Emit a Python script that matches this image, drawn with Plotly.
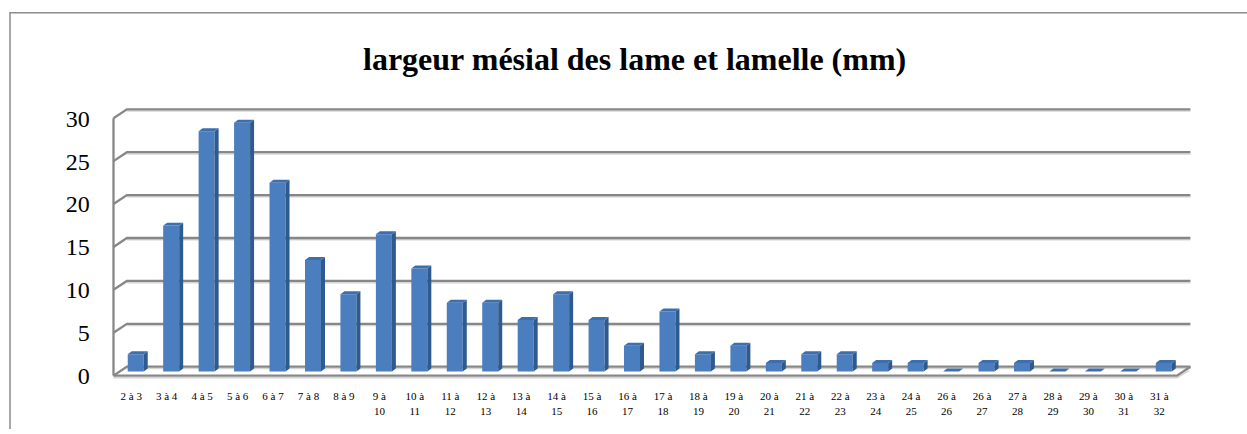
import plotly.graph_objects as go

# ---------------- data ----------------
categories = ["2 à 3", "3 à 4", "4 à 5", "5 à 6", "6 à 7", "7 à 8", "8 à 9",
              "9 à<br>10", "10 à<br>11", "11 à<br>12", "12 à<br>13", "13 à<br>14",
              "14 à<br>15", "15 à<br>16", "16 à<br>17", "17 à<br>18", "18 à<br>19",
              "19 à<br>20", "20 à<br>21", "21 à<br>22", "22 à<br>23", "23 à<br>24",
              "24 à<br>25", "26 à<br>26", "26 à<br>27", "27 à<br>28", "28 à<br>29",
              "29 à<br>30", "30 à<br>31", "31 à<br>32"]
values = [2, 17, 28, 29, 22, 13, 9, 16, 12, 8, 8, 6, 9, 6, 3, 7, 2, 3, 1, 2, 2,
          1, 1, 0, 1, 1, 0, 0, 0, 1]
y_ticks = [0, 5, 10, 15, 20, 25, 30]
title_text = "largeur mésial des lame et lamelle (mm)"

# ---------------- geometry (pixels) ----------------
W, H = 1247, 434
PX_X = 35.45          # pixels per category
PX_Y = 8.68           # pixels per unit value
FRONT_LEFT = 113.5    # pixel x of category -0.5
FRONT_ZERO = 380.0    # pixel y of value 0 on the front edge

X_RANGE = [-1.0, 30.5]
Y_RANGE = [-1.0, 33.0]
x_left_px = FRONT_LEFT + (X_RANGE[0] + 0.5) * PX_X
x_right_px = FRONT_LEFT + (X_RANGE[1] + 0.5) * PX_X
y_bot_px = FRONT_ZERO - Y_RANGE[0] * PX_Y
y_top_px = FRONT_ZERO - Y_RANGE[1] * PX_Y

# depth offsets converted to data units
DX = 13.4 / PX_X
DY = 9.0 / PX_Y
BAR_DX = 4.5 / PX_X
BAR_BASE = 4.2 / PX_Y
BAR_W = 16.0 / PX_X
SIDE_DX = 4.0 / PX_X
SIDE_DY = 3.0 / PX_Y

n = len(values)
idx = list(range(n))
FONT = "Liberation Serif"
GRID = "#878787"
GRID_LIGHT = "#d6d6d6"

fig = go.Figure()

# ---------- walls / gridlines ----------
xl = -0.5
xr = n - 0.5
gx, gy, lx, ly = [], [], [], []
for k in y_ticks:
    gx += [xl, xl + DX, xr + DX, None]
    gy += [k, k + DY, k + DY, None]
    lx += [xl + DX, xr + DX, None]
    ly += [k + DY - 0.2, k + DY - 0.2, None]
# floor front edge + right edge
gx += [xl, xr, xr + DX, None]
gy += [0, 0, DY, None]
lx += [xl, xr, xr + DX * 0.9, None]
ly += [-0.25, -0.25, DY * 0.8 - 0.25, None]
# front-left vertical axis
gx += [xl, xl, None]
gy += [0, y_ticks[-1], None]

fig.add_trace(go.Scatter(x=lx, y=ly, mode="lines", line=dict(color=GRID_LIGHT, width=1.5),
                         hoverinfo="skip", showlegend=False))
fig.add_trace(go.Scatter(x=gx, y=gy, mode="lines", line=dict(color=GRID, width=2.3),
                         hoverinfo="skip", showlegend=False))

# ---------- bars: front, side and top faces (3-D look) ----------
fx, fy, sx, sy, tx, ty = [], [], [], [], [], []
for i, v in zip(idx, values):
    x0 = i + BAR_DX - BAR_W / 2
    x1 = i + BAR_DX + BAR_W / 2
    b = BAR_BASE
    t = BAR_BASE + v
    fx += [x0, x1, x1, x0, x0, None]
    fy += [b, b, t, t, b, None]
    sx += [x1, x1, x1 + SIDE_DX, x1 + SIDE_DX, x1, None]
    sy += [b, t, t + SIDE_DY, b + SIDE_DY, b, None]
    tx += [x0, x1, x1 + SIDE_DX, x0 + SIDE_DX, x0, None]
    ty += [t, t, t + SIDE_DY, t + SIDE_DY, t, None]
fig.add_trace(go.Scatter(x=fx, y=fy, mode="lines", fill="toself", fillcolor="#4a7ebf",
                         line=dict(width=0, color="#4a7ebf"), hoverinfo="skip", showlegend=False))
fig.add_trace(go.Scatter(x=sx, y=sy, mode="lines", fill="toself", fillcolor="#2f5a8e",
                         line=dict(width=0, color="#2f5a8e"), hoverinfo="skip", showlegend=False))
fig.add_trace(go.Scatter(x=tx, y=ty, mode="lines", fill="toself", fillcolor="#3d6fae",
                         line=dict(width=0, color="#3d6fae"), hoverinfo="skip", showlegend=False))

# ---------- layout ----------
fig.update_layout(
    width=W, height=H,
    margin=dict(l=0, r=0, t=0, b=0),
    paper_bgcolor="white", plot_bgcolor="rgba(0,0,0,0)",
    font=dict(family=FONT, color="black"),
    xaxis=dict(domain=[x_left_px / W, x_right_px / W], range=X_RANGE,
               tickmode="array", tickvals=idx, ticktext=categories,
               tickfont=dict(size=11, family=FONT), tickangle=0,
               ticklabelstandoff=4,
               showgrid=False, zeroline=False, showline=False, ticks="",
               fixedrange=True),
    yaxis=dict(domain=[(H - y_bot_px) / H, (H - y_top_px) / H], range=Y_RANGE,
               tickmode="array", tickvals=y_ticks, ticktext=[str(t) for t in y_ticks],
               tickfont=dict(size=24, family=FONT),
               ticklabelstandoff=5,
               showgrid=False, zeroline=False, showline=False, ticks="",
               fixedrange=True),
    shapes=[dict(type="path", xref="paper", yref="paper",
                 path=f"M {10/W} 0 L {10/W} {(H-13)/H} L 1 {(H-13)/H}",
                 line=dict(color="#8c8c8c", width=1.5))],
    annotations=[dict(text=f"<b>{title_text}</b>", xref="paper", yref="paper",
                      x=635 / W, y=(H - 60) / H, xanchor="center", yanchor="middle",
                      showarrow=False, font=dict(size=32, family=FONT, color="black"))],
)

fig.write_html("out.html", config={"displayModeBar": False},
               post_script="document.body.style.margin='0px';")
